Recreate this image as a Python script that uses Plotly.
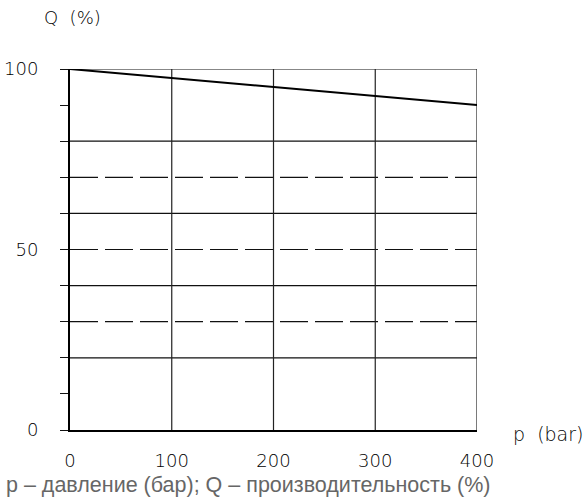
import plotly.graph_objects as go

# Data
pressure_bar = [0, 100, 200, 300, 400]
flow_pct = [100, 97.5, 95, 92.5, 90]

x_ticks = [0, 100, 200, 300, 400]
x_tick_labels = ["0", "100", "200", "300", "400"]
y_ticks = [0, 10, 20, 30, 40, 50, 60, 70, 80, 90, 100]
y_tick_labels = ["0", "", "", "", "", "50", "", "", "", "", "100"]

solid_levels = [20, 40, 60, 80, 100]
dashed_levels = [30, 50, 70]
vertical_levels = [100, 200, 300, 400]

y_title = "Q\u00a0\u00a0(%)"
x_title = "p\u00a0\u00a0(bar)"
caption = "p – давление (бар); Q – производительность (%)"

TICK_FONT = dict(family="DejaVu Sans", size=18, color="#000000", weight=200)

fig = go.Figure()
fig.add_trace(go.Scatter(
    x=pressure_bar, y=flow_pct, mode="lines",
    line=dict(color="#000000", width=2), showlegend=False, hoverinfo="skip",
))

shapes = []
for lv in solid_levels:
    shapes.append(dict(type="line", xref="x", yref="y", x0=0, x1=400, y0=lv, y1=lv,
                       line=dict(color="#111111", width=1.2), layer="below"))
for lv in dashed_levels:
    shapes.append(dict(type="line", xref="x", yref="y", x0=0, x1=400, y0=lv, y1=lv,
                       line=dict(color="#111111", width=1.2, dash="28px,7px"), layer="below"))
for lv in vertical_levels:
    shapes.append(dict(type="line", xref="x", yref="y", x0=lv, x1=lv, y0=0, y1=100,
                       line=dict(color="#222222", width=1.2), layer="below"))
# small downward tick at the origin
shapes.append(dict(type="line", xref="x", yref="y", x0=0, x1=0, ysizemode="pixel",
                   yanchor=0, y0=-9, y1=0, line=dict(color="#000000", width=1.5)))

fig.update_layout(
    width=588, height=504,
    margin=dict(l=70, r=111, t=69, b=74, autoexpand=False),
    plot_bgcolor="white", paper_bgcolor="white",
    shapes=shapes,
    xaxis=dict(range=[0, 400], tickvals=x_ticks, ticktext=x_tick_labels, automargin=False,
               showgrid=False, zeroline=False, showline=True, linecolor="#000000", linewidth=2,
               ticks="", ticklabelstandoff=13, tickfont=TICK_FONT, fixedrange=True),
    yaxis=dict(range=[0, 100], tickvals=y_ticks, ticktext=y_tick_labels, automargin=False,
               showgrid=False, zeroline=False, showline=True, linecolor="#000000", linewidth=2,
               ticks="outside", ticklen=8, tickwidth=1.2, tickcolor="#111111",
               ticklabelstandoff=18, tickfont=TICK_FONT, fixedrange=True),
    annotations=[
        dict(text=y_title, xref="paper", yref="paper", x=-0.0688, y=1.144, xanchor="left",
             yanchor="middle", showarrow=False, font=TICK_FONT),
        dict(text=x_title, xref="paper", yref="paper", x=1.084, y=-0.011, xanchor="left",
             yanchor="middle", showarrow=False, font=dict(TICK_FONT, size=19)),
        dict(text=caption, xref="paper", yref="paper", x=-0.1622, y=-0.1524, xanchor="left",
             yanchor="middle", showarrow=False,
             font=dict(family="Liberation Sans", size=21.5, color="#666666")),
    ],
)

fig.write_html("out.html", config={"displayModeBar": False},
               post_script="document.body.style.margin='0';")
